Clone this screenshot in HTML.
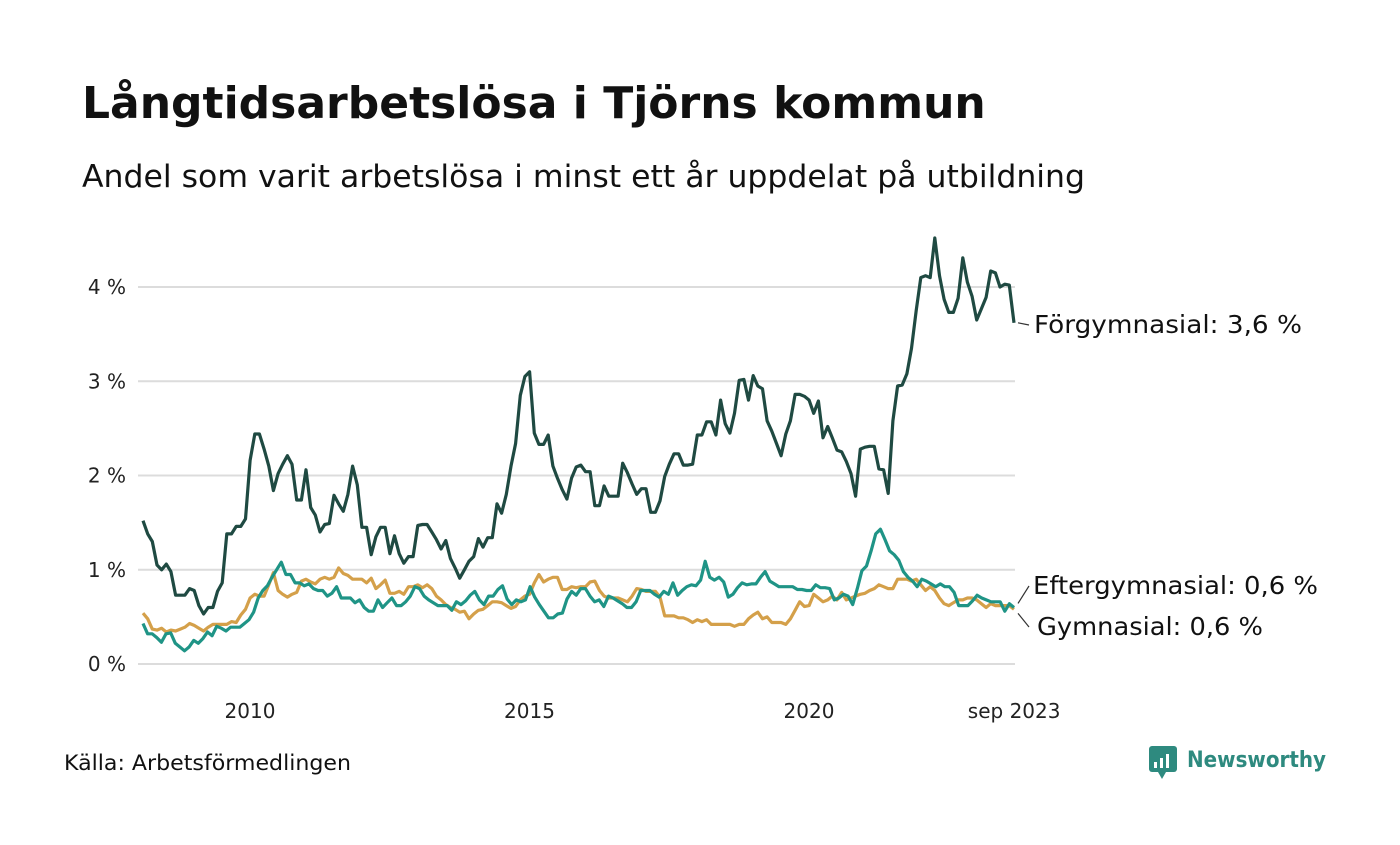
<!DOCTYPE html>
<html><head><meta charset="utf-8"><style>
body{margin:0;background:#fff;width:1400px;height:840px;overflow:hidden;font-family:"Liberation Sans","DejaVu Sans",sans-serif}
</style></head><body>
<svg width="1400" height="840" xmlns="http://www.w3.org/2000/svg" font-family="'DejaVu Sans','Liberation Sans',sans-serif">
<text x="82" y="118" font-size="44" font-weight="bold" fill="#111">Långtidsarbetslösa i Tjörns kommun</text>
<text x="82" y="187" font-size="31" fill="#111" textLength="1003" lengthAdjust="spacingAndGlyphs">Andel som varit arbetslösa i minst ett år uppdelat på utbildning</text>
<g id="grid"></g>
<g id="yt"></g>
<g id="xt"></g>
<g id="lines"></g>
<g id="labels"></g>
<text x="64" y="770" font-size="21" fill="#111" textLength="287" lengthAdjust="spacingAndGlyphs">Källa: Arbetsförmedlingen</text>
<g>
<rect x="1149" y="746" width="28" height="26" rx="3" fill="#2e8a7f"/>
<polygon points="1158,772 1166,772 1162,779" fill="#2e8a7f"/>
<rect x="1154" y="762" width="3" height="6" fill="#fff"/><rect x="1160" y="758" width="3" height="10" fill="#fff"/><rect x="1166" y="754" width="3" height="14" fill="#fff"/>
<text x="1187" y="767" font-size="22" font-weight="bold" fill="#2e8a7f" textLength="139" lengthAdjust="spacingAndGlyphs">Newsworthy</text>
</g>
</svg>
<script>
const yTicks=[0,1,2,3,4];
const yTickLabels=["0 %","1 %","2 %","3 %","4 %"];
const xTickYears=[2010,2015,2020,2023.67];
const xTickLabels=["2010","2015","2020","sep 2023"];
const forgymnasial=[1.52,1.38,1.30,1.05,1.00,1.06,0.98,0.73,0.73,0.73,0.80,0.78,0.62,0.53,0.60,0.60,0.77,0.86,1.38,1.38,1.46,1.46,1.54,2.16,2.44,2.44,2.28,2.10,1.84,2.02,2.12,2.21,2.12,1.74,1.74,2.06,1.66,1.58,1.40,1.48,1.49,1.79,1.70,1.62,1.80,2.10,1.90,1.45,1.45,1.16,1.35,1.45,1.45,1.17,1.36,1.17,1.07,1.14,1.14,1.47,1.48,1.48,1.40,1.32,1.22,1.31,1.12,1.02,0.91,1.00,1.09,1.14,1.33,1.24,1.34,1.34,1.70,1.60,1.80,2.10,2.34,2.85,3.05,3.10,2.45,2.33,2.33,2.43,2.10,1.97,1.85,1.75,1.97,2.09,2.11,2.04,2.04,1.68,1.68,1.89,1.78,1.78,1.78,2.13,2.03,1.91,1.80,1.86,1.86,1.61,1.61,1.73,1.99,2.12,2.23,2.23,2.11,2.11,2.12,2.43,2.43,2.57,2.57,2.43,2.80,2.55,2.45,2.66,3.01,3.02,2.80,3.06,2.95,2.92,2.58,2.47,2.34,2.21,2.44,2.58,2.86,2.86,2.84,2.80,2.66,2.79,2.40,2.52,2.40,2.27,2.25,2.15,2.02,1.78,2.28,2.30,2.31,2.31,2.07,2.06,1.81,2.58,2.95,2.96,3.08,3.35,3.75,4.10,4.12,4.10,4.52,4.12,3.87,3.73,3.73,3.88,4.31,4.05,3.90,3.65,3.77,3.89,4.17,4.15,4.00,4.03,4.02,3.62];
const eftergymnasial=[0.43,0.32,0.32,0.28,0.23,0.32,0.33,0.22,0.18,0.14,0.18,0.25,0.22,0.27,0.34,0.30,0.40,0.38,0.35,0.39,0.39,0.39,0.43,0.47,0.55,0.70,0.78,0.83,0.92,1.00,1.08,0.95,0.95,0.86,0.86,0.83,0.85,0.80,0.78,0.78,0.72,0.75,0.82,0.70,0.70,0.70,0.65,0.68,0.60,0.56,0.56,0.68,0.60,0.65,0.70,0.62,0.62,0.66,0.72,0.82,0.80,0.72,0.68,0.65,0.62,0.62,0.62,0.57,0.66,0.63,0.67,0.73,0.77,0.68,0.63,0.72,0.72,0.79,0.83,0.69,0.63,0.68,0.66,0.68,0.82,0.71,0.63,0.56,0.49,0.49,0.53,0.54,0.69,0.77,0.73,0.80,0.80,0.72,0.66,0.68,0.61,0.72,0.70,0.67,0.64,0.60,0.60,0.66,0.78,0.78,0.78,0.74,0.71,0.77,0.74,0.86,0.73,0.78,0.82,0.84,0.83,0.89,1.09,0.92,0.89,0.92,0.87,0.71,0.74,0.81,0.86,0.84,0.85,0.85,0.92,0.98,0.88,0.85,0.82,0.82,0.82,0.82,0.79,0.79,0.78,0.78,0.84,0.81,0.81,0.80,0.68,0.70,0.74,0.72,0.63,0.80,0.99,1.04,1.20,1.38,1.43,1.32,1.20,1.16,1.10,0.98,0.92,0.88,0.82,0.90,0.88,0.85,0.82,0.85,0.82,0.82,0.76,0.62,0.62,0.62,0.67,0.73,0.70,0.68,0.66,0.66,0.66,0.56,0.64,0.60];
const gymnasial=[0.54,0.48,0.37,0.36,0.38,0.34,0.36,0.35,0.37,0.39,0.43,0.41,0.38,0.35,0.39,0.42,0.42,0.42,0.42,0.45,0.44,0.52,0.58,0.70,0.74,0.72,0.72,0.84,0.97,0.78,0.74,0.71,0.74,0.76,0.88,0.90,0.87,0.85,0.90,0.92,0.90,0.92,1.02,0.96,0.94,0.90,0.90,0.90,0.86,0.91,0.80,0.84,0.89,0.75,0.75,0.77,0.74,0.82,0.82,0.84,0.81,0.84,0.80,0.72,0.68,0.63,0.60,0.58,0.55,0.56,0.48,0.53,0.57,0.58,0.62,0.66,0.66,0.65,0.62,0.59,0.61,0.68,0.72,0.74,0.86,0.95,0.87,0.90,0.92,0.92,0.79,0.79,0.82,0.81,0.82,0.82,0.87,0.88,0.78,0.72,0.70,0.70,0.70,0.68,0.66,0.72,0.80,0.79,0.77,0.77,0.77,0.71,0.51,0.51,0.51,0.49,0.49,0.47,0.44,0.47,0.45,0.47,0.42,0.42,0.42,0.42,0.42,0.40,0.42,0.42,0.48,0.52,0.55,0.48,0.50,0.44,0.44,0.44,0.42,0.48,0.57,0.66,0.61,0.62,0.74,0.70,0.66,0.68,0.72,0.68,0.76,0.68,0.70,0.72,0.74,0.75,0.78,0.80,0.84,0.82,0.80,0.80,0.90,0.90,0.90,0.88,0.90,0.84,0.78,0.82,0.78,0.70,0.64,0.62,0.65,0.68,0.68,0.70,0.70,0.68,0.64,0.60,0.64,0.62,0.62,0.62,0.62,0.58];
const seriesNames=["Förgymnasial","Eftergymnasial","Gymnasial"];
const NS="http://www.w3.org/2000/svg";
const X0=143,X1=1014;
function xYear(y){return 250+(y-2010)*55.9;}
function xIdx(i,n){return X0+(X1-X0)*i/(n-1);}
function yS(v){return 664-v*94.25;}
function mk(tag,attrs,parent){const e=document.createElementNS(NS,tag);for(const k in attrs)e.setAttribute(k,attrs[k]);parent.appendChild(e);return e;}
const grid=document.getElementById('grid'),yt=document.getElementById('yt'),xt=document.getElementById('xt');
yTicks.forEach((t,i)=>{
 const l=mk('line',{x1:138,x2:1015,y1:yS(t),y2:yS(t),stroke:'#dcdcdc','stroke-width':2},grid);
 
 
 const tx=mk('text',{x:126,y:yS(t)+7,'text-anchor':'end','font-size':20,fill:'#222'},yt);
 tx.textContent=yTickLabels[i];
 
 
});
xTickYears.forEach((t,i)=>{
 const tx=mk('text',{x:xYear(t),y:718,'text-anchor':'middle','font-size':20,fill:'#222'},xt);
 tx.textContent=xTickLabels[i];
 
 
});
const lines=document.getElementById('lines');
function draw(arr,color,name){
 const d=arr.map((v,i)=>(i?'L':'M')+xIdx(i,arr.length).toFixed(1)+','+yS(v).toFixed(1)).join('');
 const p=mk('path',{d:d,fill:'none',stroke:color,'stroke-width':3.2,'stroke-linejoin':'round'},lines);
 
 
}
draw(gymnasial,'#d4a04a','line-gymnasial');
draw(eftergymnasial,'#1f9486','line-eftergymnasial');
draw(forgymnasial,'#1f4a42','line-forgymnasial');
const lab=document.getElementById('labels');
function label(txt,y,lx,ly,w,name){
 mk('path',{d:`M1018,${y} L1029,${ly-8}`,stroke:'#333','stroke-width':1.2,fill:'none'},lab);
 const t=mk('text',{x:lx,y:ly,'font-size':25,fill:'#111',textLength:w,lengthAdjust:'spacingAndGlyphs'},lab);
 t.textContent=txt;
 
 
}
label(seriesNames[0]+': '+forgymnasial[forgymnasial.length-1].toFixed(1).replace('.',',')+' %',yS(forgymnasial[forgymnasial.length-1]),1034,333,268,'label-forgymnasial');
label(seriesNames[1]+': '+eftergymnasial[eftergymnasial.length-1].toFixed(1).replace('.',',')+' %',yS(eftergymnasial[eftergymnasial.length-1])-4,1033,594,285,'label-eftergymnasial');
label(seriesNames[2]+': '+gymnasial[gymnasial.length-1].toFixed(1).replace('.',',')+' %',yS(gymnasial[gymnasial.length-1])+4,1037,635,226,'label-gymnasial');
</script>
</body></html>
